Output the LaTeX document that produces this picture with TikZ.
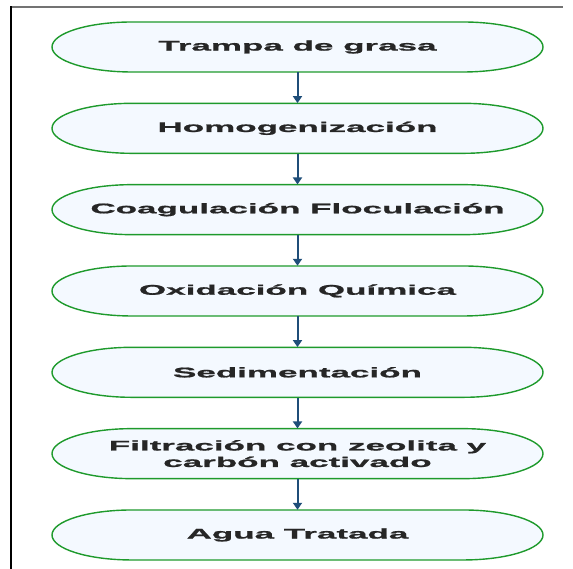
\documentclass[tikz,border=0pt]{standalone}
\usepackage{fontspec}
\usetikzlibrary{arrows.meta}
\newfontfamily\stagefont{Liberation Sans}[FakeStretch=2.5,FakeBold=1.2]
\definecolor{stagegreen}{HTML}{1E9A2C}
\definecolor{stagefill}{HTML}{F4F9FF}
\definecolor{flowblue}{HTML}{1F4E79}
\tikzset{
	stage/.style={minimum width=491pt, minimum height=50pt, inner sep=0pt, align=center,
		font=\stagefont\bfseries\fontsize{14}{16.5}\selectfont, text=black!85},
	stageline/.style={draw=stagegreen, fill=stagefill, line width=1.4pt},
	flow/.style={draw=flowblue, line width=2pt, -{Triangle[width=9pt,length=7pt]}}
}
\begin{document}
\begin{tikzpicture}[x=1pt,y=1pt]
		\useasboundingbox (0,0) rectangle (573,569);
		\draw[black!55,line width=1.5pt] (11,562) -- (563,562);
		\draw[black,line width=1.3pt] (11,562.7) -- (11,0);
		
		\foreach \n/\y in {trampa/0, homog/1, coag/2, oxid/3, sedim/4, filtr/5, agua/6}{
			\coordinate (\n) at (297.5,{522-81.33*\y});
			\draw[stageline] ([shift={(-165.5,25)}]\n) -- ([shift={(165.5,25)}]\n) arc[start angle=90,end angle=-90,x radius=80,y radius=25]
				-- ([shift={(-165.5,-25)}]\n) arc[start angle=270,end angle=90,x radius=80,y radius=25] -- cycle;
		}
		
		\node[stage] (s1) at (trampa) {Trampa de grasa};
		\node[stage] (s2) at (homog) {Homogenización};
		\node[stage] (s3) at (coag) {Coagulación Floculación};
		\node[stage] (s4) at (oxid) {Oxidación Química};
		\node[stage] (s5) at (sedim) {Sedimentación};
		\node[stage] (s6) at (filtr) {Filtración con zeolita y\\carbón activado};
		\node[stage] (s7) at (agua) {Agua Tratada};
		
		\foreach \a/\b in {s1/s2, s2/s3, s3/s4, s4/s5, s5/s6, s6/s7}{
			\draw[flow] (\a.south) -- (\b.north);
		}
\end{tikzpicture}
\end{document}
